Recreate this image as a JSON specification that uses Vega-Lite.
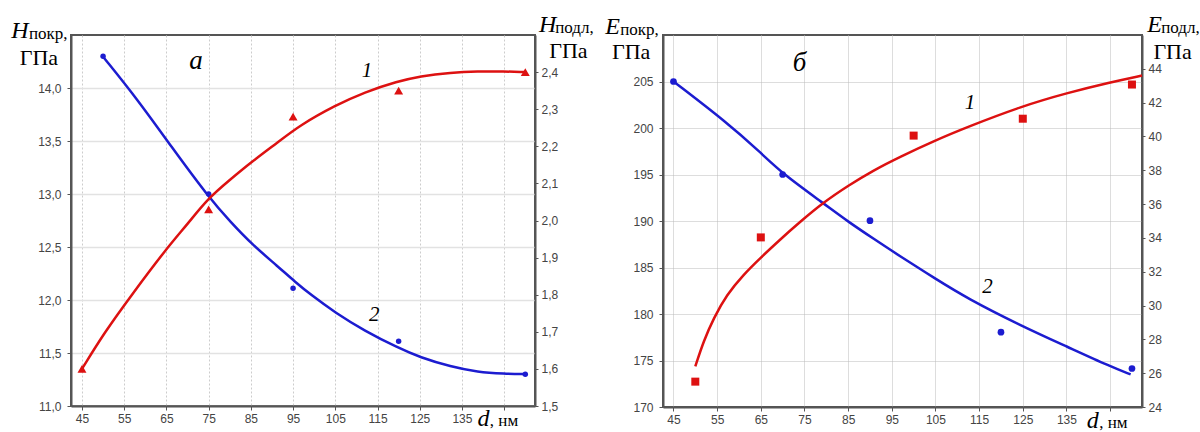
{
  "$schema": "https://vega.github.io/schema/vega-lite/v6.json",
  "background": "white",
  "padding": {"left": 10, "top": 11, "right": 0, "bottom": 0},
  "bounds": "flush",
  "spacing": 128,
  "config": {
    "view": {"stroke": "#555555", "strokeWidth": 2},
    "axis": {
      "labelFont": "Liberation Sans",
      "labelFontSize": 12,
      "labelColor": "#444444",
      "tickColor": "#555555",
      "tickSize": 4,
      "labelPadding": 4,
      "domainColor": "#555555",
      "domainWidth": 2
    }
  },
  "datasets": {
    "aBlueCurve": [
      {"d": 49.9, "v": 14.30}, {"d": 58.2, "v": 13.89}, {"d": 66.1, "v": 13.45}, {"d": 74.8, "v": 12.98},
      {"d": 80.3, "v": 12.73}, {"d": 85.4, "v": 12.52}, {"d": 91.3, "v": 12.32}, {"d": 95.5, "v": 12.17},
      {"d": 99.2, "v": 12.05}, {"d": 105, "v": 11.88}, {"d": 111.9, "v": 11.71}, {"d": 119.8, "v": 11.55},
      {"d": 125, "v": 11.46}, {"d": 132.4, "v": 11.37}, {"d": 138.7, "v": 11.32}, {"d": 145, "v": 11.305},
      {"d": 150.1, "v": 11.30}
    ],
    "aBluePts": [
      {"d": 50, "v": 14.30}, {"d": 75, "v": 13.00}, {"d": 95, "v": 12.11}, {"d": 120, "v": 11.61}, {"d": 150, "v": 11.30}
    ],
    "aRedCurve": [
      {"d": 45, "v": 1.60}, {"d": 50.3, "v": 1.698}, {"d": 56.6, "v": 1.797}, {"d": 64.9, "v": 1.923},
      {"d": 70, "v": 1.99}, {"d": 74.7, "v": 2.058}, {"d": 80.2, "v": 2.111}, {"d": 84.95, "v": 2.156},
      {"d": 91.3, "v": 2.21}, {"d": 96.8, "v": 2.258}, {"d": 105, "v": 2.31}, {"d": 111.9, "v": 2.346},
      {"d": 119.8, "v": 2.375}, {"d": 125, "v": 2.389}, {"d": 132.4, "v": 2.399}, {"d": 138.7, "v": 2.402},
      {"d": 145, "v": 2.402}, {"d": 149.7, "v": 2.40}
    ],
    "aRedPts": [
      {"d": 45, "v": 1.60}, {"d": 75, "v": 2.03}, {"d": 95, "v": 2.28}, {"d": 120, "v": 2.35}, {"d": 150, "v": 2.40}
    ],
    "bBlueCurve": [
      {"d": 45, "v": 205}, {"d": 57.2, "v": 200.6}, {"d": 64.85, "v": 197.4}, {"d": 70.2, "v": 195.0},
      {"d": 79.35, "v": 191.9}, {"d": 85.07, "v": 189.9}, {"d": 90.8, "v": 188.1}, {"d": 96.9, "v": 186.2},
      {"d": 104.8, "v": 183.85}, {"d": 112.2, "v": 181.7}, {"d": 124.9, "v": 178.67}, {"d": 135.1, "v": 176.5},
      {"d": 145, "v": 174.37}, {"d": 149.7, "v": 173.5}
    ],
    "bBluePts": [
      {"d": 45, "v": 205}, {"d": 70, "v": 195}, {"d": 90, "v": 190.03}, {"d": 120, "v": 178.05}, {"d": 150, "v": 174.14}
    ],
    "bRedCurve": [
      {"d": 50, "v": 26.4}, {"d": 51.9, "v": 27.9}, {"d": 54.2, "v": 29.25}, {"d": 57.2, "v": 30.64},
      {"d": 61, "v": 31.82}, {"d": 64.85, "v": 32.8}, {"d": 69.4, "v": 33.9}, {"d": 74, "v": 34.95},
      {"d": 79.35, "v": 36.1}, {"d": 85.07, "v": 37.1}, {"d": 90.8, "v": 38.0}, {"d": 96.9, "v": 38.8},
      {"d": 104.8, "v": 39.75}, {"d": 112.2, "v": 40.55}, {"d": 124.9, "v": 41.8}, {"d": 135.1, "v": 42.57},
      {"d": 145, "v": 43.2}, {"d": 152.3, "v": 43.6}
    ],
    "bRedPts": [
      {"d": 50, "v": 25.5}, {"d": 65, "v": 34.03}, {"d": 100, "v": 40.05}, {"d": 125, "v": 41.05}, {"d": 150, "v": 43.07}
    ],
    "aLab": [
      {"t": "H", "d": 30.3, "v": 14.47, "k": "big"},
      {"t": "H", "d": 155.3, "v": 14.53, "k": "big"},
      {"t": "d", "d": 140.1, "v": 10.81, "k": "big"},
      {"t": "а", "d": 72, "v": 14.18, "k": "panel"},
      {"t": "1", "d": 112.5, "v": 14.10, "k": "num"},
      {"t": "2", "d": 114.2, "v": 11.80, "k": "num"},
      {"t": "покр,", "d": 32.45, "v": 14.46, "k": "sub"},
      {"t": "подл,", "d": 157.1, "v": 14.52, "k": "sub"},
      {"t": ", нм", "d": 141.6, "v": 10.81, "k": "sub"},
      {"t": "ГПа", "d": 34.8, "v": 14.22, "k": "unit"},
      {"t": "ГПа", "d": 160.2, "v": 14.28, "k": "unit"}
    ],
    "bLab": [
      {"t": "E", "d": 31.08, "v": 210.07, "k": "big"},
      {"t": "E", "d": 155.19, "v": 210.28, "k": "big"},
      {"t": "d", "d": 141.0, "v": 167.73, "k": "big"},
      {"t": "б", "d": 73.85, "v": 206.18, "k": "panel"},
      {"t": "1", "d": 112.9, "v": 202.06, "k": "num"},
      {"t": "2", "d": 116.9, "v": 182.24, "k": "num"},
      {"t": "покр,", "d": 32.8, "v": 210.0, "k": "sub"},
      {"t": "подл,", "d": 156.7, "v": 210.23, "k": "sub"},
      {"t": ", нм", "d": 142.5, "v": 167.73, "k": "sub"},
      {"t": "ГПа", "d": 35.3, "v": 207.39, "k": "unit"},
      {"t": "ГПа", "d": 159.3, "v": 207.39, "k": "unit"}
    ]
  },
  "hconcat": [
    {
      "width": 464,
      "height": 371,
      "encoding": {
        "x": {
          "field": "d", "type": "quantitative",
          "scale": {"domain": [42.4, 152.3], "nice": false, "zero": false},
          "axis": {
            "title": null,
            "values": [45, 55, 65, 75, 85, 95, 105, 115, 125, 135, 145],
            "labelExpr": "datum.value == 145 ? '' : datum.label",
            "grid": true, "gridColor": "#cccccc", "gridDash": [2, 2], "labelPadding": 3
          }
        }
      },
      "layer": [
        {
          "encoding": {
            "y": {
              "field": "v", "type": "quantitative",
              "scale": {"domain": [11, 14.5], "nice": false, "zero": false},
              "axis": {
                "orient": "left", "title": null,
                "values": [11, 11.5, 12, 12.5, 13, 13.5, 14],
                "labelExpr": "replace(format(datum.value, '.1f'), '.', ',')",
                "grid": true, "gridColor": "#e2e2e2", "gridWidth": 1.5, "labelPadding": 6
              }
            }
          },
          "layer": [
            {"data": {"name": "aBlueCurve"}, "mark": {"type": "line", "color": "#1c1cd0", "strokeWidth": 2.5, "interpolate": "basis"}, "encoding": {}},
            {"data": {"name": "aBluePts"}, "mark": {"type": "point", "shape": "circle", "filled": true, "opacity": 1, "color": "#1c1cd0", "size": 30}, "encoding": {}},
            {"data": {"name": "aLab"}, "transform": [{"filter": "datum.k == 'big'"}], "mark": {"type": "text", "font": "Liberation Serif", "fontStyle": "italic", "fontSize": 24, "align": "center", "baseline": "alphabetic", "color": "black"}, "encoding": {"text": {"field": "t"}}},
            {"data": {"name": "aLab"}, "transform": [{"filter": "datum.k == 'panel'"}], "mark": {"type": "text", "font": "Liberation Serif", "fontStyle": "italic", "fontSize": 27, "align": "center", "baseline": "alphabetic", "color": "black"}, "encoding": {"text": {"field": "t"}}},
            {"data": {"name": "aLab"}, "transform": [{"filter": "datum.k == 'num'"}], "mark": {"type": "text", "font": "Liberation Serif", "fontStyle": "italic", "fontSize": 21, "align": "center", "baseline": "alphabetic", "color": "black"}, "encoding": {"text": {"field": "t"}}},
            {"data": {"name": "aLab"}, "transform": [{"filter": "datum.k == 'sub'"}], "mark": {"type": "text", "font": "Liberation Serif", "fontSize": 17, "align": "left", "baseline": "alphabetic", "color": "black"}, "encoding": {"text": {"field": "t"}}},
            {"data": {"name": "aLab"}, "transform": [{"filter": "datum.k == 'unit'"}], "mark": {"type": "text", "font": "Liberation Serif", "fontSize": 22, "align": "center", "baseline": "alphabetic", "color": "black"}, "encoding": {"text": {"field": "t"}}}
          ]
        },
        {
          "encoding": {
            "y": {
              "field": "v", "type": "quantitative",
              "scale": {"domain": [1.5, 2.5], "nice": false, "zero": false},
              "axis": {
                "orient": "right", "title": null,
                "values": [1.5, 1.6, 1.7, 1.8, 1.9, 2.0, 2.1, 2.2, 2.3, 2.4],
                "labelExpr": "replace(format(datum.value, '.1f'), '.', ',')",
                "grid": false, "tickSize": 3, "labelPadding": 3
              }
            }
          },
          "layer": [
            {"data": {"name": "aRedCurve"}, "mark": {"type": "line", "color": "#dd1111", "strokeWidth": 2.5, "interpolate": "basis"}, "encoding": {}},
            {"data": {"name": "aRedPts"}, "mark": {"type": "point", "shape": "triangle-up", "filled": true, "opacity": 1, "color": "#dd1111", "size": 80}, "encoding": {}}
          ]
        }
      ],
      "resolve": {"scale": {"y": "independent"}}
    },
    {
      "width": 479,
      "height": 372,
      "encoding": {
        "x": {
          "field": "d", "type": "quantitative",
          "scale": {"domain": [42.6, 152.3], "nice": false, "zero": false},
          "axis": {
            "title": null,
            "values": [45, 55, 65, 75, 85, 95, 105, 115, 125, 135, 145],
            "labelExpr": "datum.value == 145 ? '' : datum.label",
            "grid": true, "gridColor": "#bbbbbb", "gridDash": [1, 1], "labelPadding": 3
          }
        }
      },
      "layer": [
        {
          "encoding": {
            "y": {
              "field": "v", "type": "quantitative",
              "scale": {"domain": [170, 210], "nice": false, "zero": false},
              "axis": {
                "orient": "left", "title": null,
                "values": [170, 175, 180, 185, 190, 195, 200, 205],
                "grid": true, "gridColor": "#bbbbbb", "gridDash": [1, 1], "labelPadding": 6
              }
            }
          },
          "layer": [
            {"data": {"name": "bBlueCurve"}, "mark": {"type": "line", "color": "#1c1cd0", "strokeWidth": 2.5, "interpolate": "basis"}, "encoding": {}},
            {"data": {"name": "bBluePts"}, "mark": {"type": "point", "shape": "circle", "filled": true, "opacity": 1, "color": "#1c1cd0", "size": 45}, "encoding": {}},
            {"data": {"name": "bLab"}, "transform": [{"filter": "datum.k == 'big'"}], "mark": {"type": "text", "font": "Liberation Serif", "fontStyle": "italic", "fontSize": 24, "align": "center", "baseline": "alphabetic", "color": "black"}, "encoding": {"text": {"field": "t"}}},
            {"data": {"name": "bLab"}, "transform": [{"filter": "datum.k == 'panel'"}], "mark": {"type": "text", "font": "Liberation Serif", "fontStyle": "italic", "fontSize": 27, "align": "center", "baseline": "alphabetic", "color": "black"}, "encoding": {"text": {"field": "t"}}},
            {"data": {"name": "bLab"}, "transform": [{"filter": "datum.k == 'num'"}], "mark": {"type": "text", "font": "Liberation Serif", "fontStyle": "italic", "fontSize": 21, "align": "center", "baseline": "alphabetic", "color": "black"}, "encoding": {"text": {"field": "t"}}},
            {"data": {"name": "bLab"}, "transform": [{"filter": "datum.k == 'sub'"}], "mark": {"type": "text", "font": "Liberation Serif", "fontSize": 17, "align": "left", "baseline": "alphabetic", "color": "black"}, "encoding": {"text": {"field": "t"}}},
            {"data": {"name": "bLab"}, "transform": [{"filter": "datum.k == 'unit'"}], "mark": {"type": "text", "font": "Liberation Serif", "fontSize": 22, "align": "center", "baseline": "alphabetic", "color": "black"}, "encoding": {"text": {"field": "t"}}}
          ]
        },
        {
          "encoding": {
            "y": {
              "field": "v", "type": "quantitative",
              "scale": {"domain": [24, 46], "nice": false, "zero": false},
              "axis": {
                "orient": "right", "title": null,
                "values": [24, 26, 28, 30, 32, 34, 36, 38, 40, 42, 44],
                "grid": false, "tickSize": 3, "labelPadding": 3
              }
            }
          },
          "layer": [
            {"data": {"name": "bRedCurve"}, "mark": {"type": "line", "color": "#dd1111", "strokeWidth": 2.5, "interpolate": "basis"}, "encoding": {}},
            {"data": {"name": "bRedPts"}, "mark": {"type": "point", "shape": "square", "filled": true, "opacity": 1, "color": "#dd1111", "size": 64}, "encoding": {}}
          ]
        }
      ],
      "resolve": {"scale": {"y": "independent"}}
    }
  ]
}
